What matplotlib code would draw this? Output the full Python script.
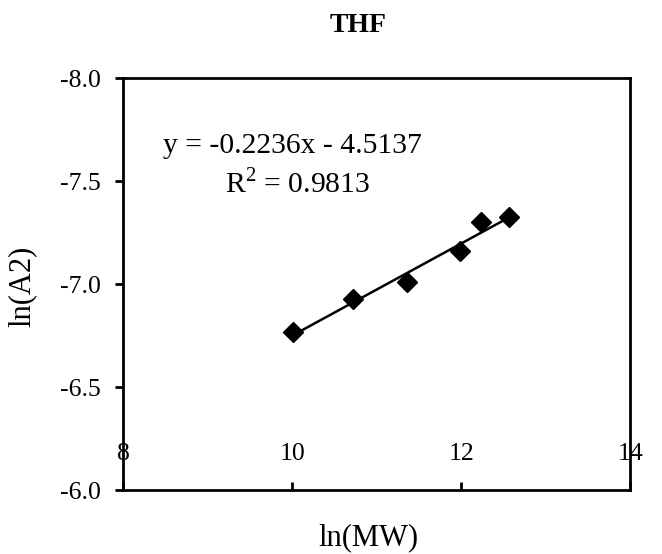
import numpy as np
import matplotlib
matplotlib.use("Agg")
import matplotlib.pyplot as plt

plt.rcParams['font.family'] = ['Liberation Serif', 'DejaVu Serif']
plt.rcParams['mathtext.fontset'] = 'custom'
plt.rcParams['mathtext.rm'] = 'Liberation Serif'

# data
ln_mw = [10.01, 10.72, 11.36, 11.98, 12.23, 12.57]
ln_a2 = [-6.766, -6.927, -7.011, -7.162, -7.302, -7.326]
slope = -0.2236
intercept = -4.5137
r2 = 0.9813

xticks = [8, 10, 12, 14]
yticks = [-8.0, -7.5, -7.0, -6.5, -6.0]

fig = plt.figure(figsize=(6.62, 5.54), dpi=100)
ax = fig.add_axes([0.186, 0.1155, 0.766, 0.7435])

# trendline over the data range
xfit = np.array([min(ln_mw), max(ln_mw)])
ax.plot(xfit, slope * xfit + intercept, color="black", lw=1.8, zorder=2)
ax.plot(ln_mw, ln_a2, ls="none", marker="D", ms=10, color="black", zorder=3)

ax.set_xlim(8, 14)
ax.set_ylim(-6.0, -8.0)
ax.set_xticks(xticks)
ax.set_xticklabels([str(t) for t in xticks])
ax.set_yticks(yticks)
ax.set_yticklabels(["%.1f" % t for t in yticks])

for s in ax.spines.values():
    s.set_linewidth(2)
ax.tick_params(axis="x", direction="in", length=6, width=2, pad=-34, labelsize=18.5)
ax.tick_params(axis="y", direction="out", length=6, width=2, pad=10, labelsize=18.5)

ax.text(0.333, 0.836, "y = -0.2236x - 4.5137", transform=ax.transAxes,
        fontsize=21.3, va="center", ha="center")
ax.text(0.343, 0.742, "R$^{2}$ = %.4f" % r2, transform=ax.transAxes,
        fontsize=21.3, va="center", ha="center")

fig.text(358 / 662, 1 - 25 / 554, "THF", fontsize=20, fontweight="bold",
         ha="center", va="center")
fig.text(368 / 662, 1 - 538 / 554, "ln(MW)", fontsize=22, ha="center", va="center")
fig.text(22 / 662, 1 - 286 / 554, "ln(A2)", fontsize=22, ha="center", va="center",
         rotation=90)

fig.savefig("out.png", dpi=100)
